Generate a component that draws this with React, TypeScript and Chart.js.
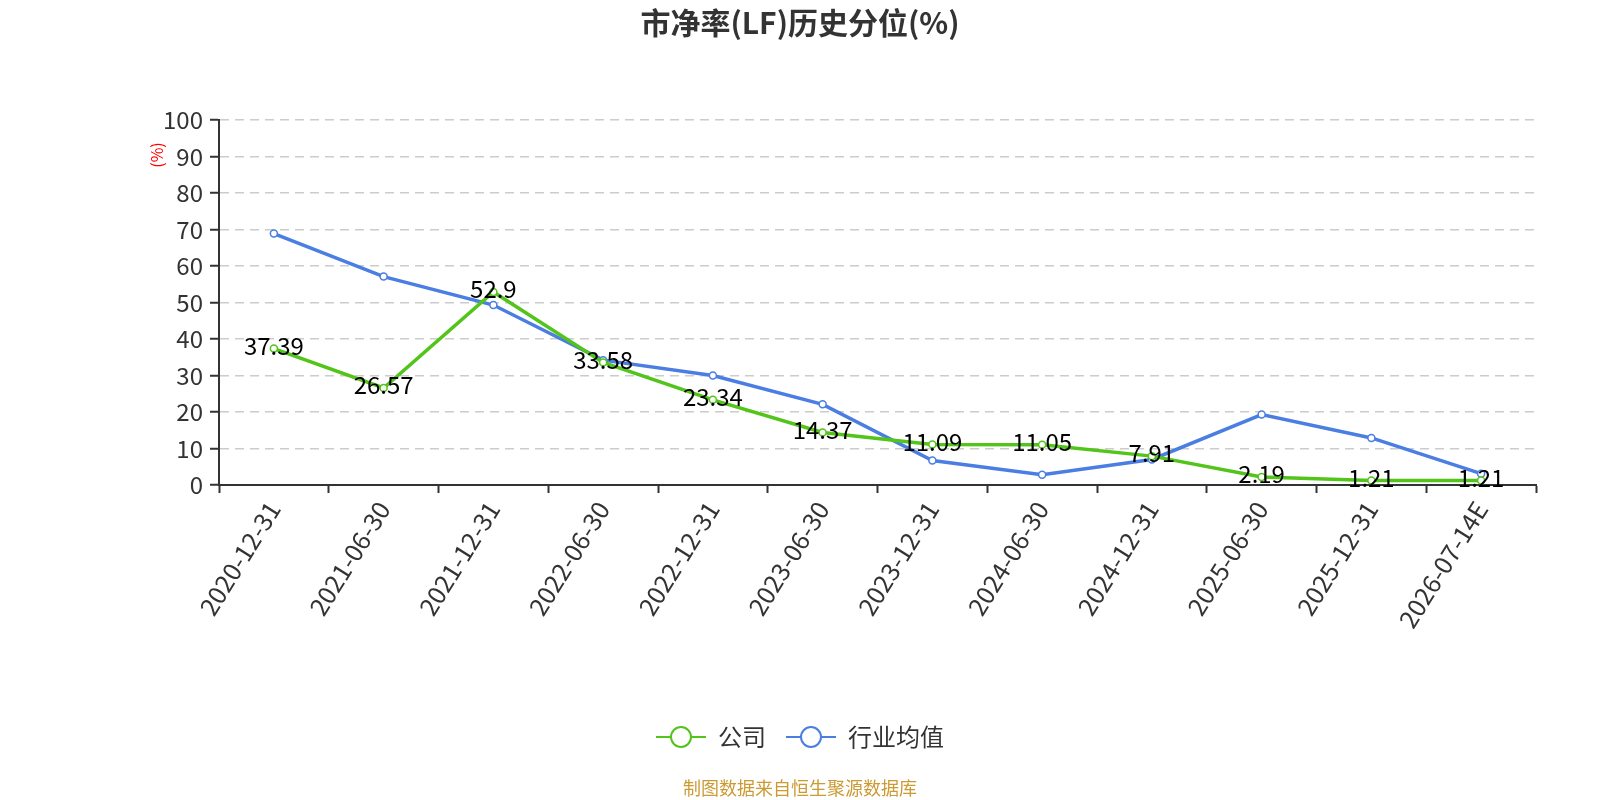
import React, { useEffect, useRef } from "react";
import Chart from "chart.js/auto";

const categories = [
  "2020-12-31",
  "2021-06-30",
  "2021-12-31",
  "2022-06-30",
  "2022-12-31",
  "2023-06-30",
  "2023-12-31",
  "2024-06-30",
  "2024-12-31",
  "2025-06-30",
  "2025-12-31",
  "2026-07-14E",
];
const companyValues = [37.39, 26.57, 52.9, 33.58, 23.34, 14.37, 11.09, 11.05, 7.91, 2.19, 1.21, 1.21];
const industryValues = [68.9, 57.1, 49.3, 34.2, 30.0, 22.1, 6.7, 2.8, 7.0, 19.3, 12.9, 3.1];

const GREEN = "#52C41A";
const BLUE = "#4A7EE3";
const FONT = "'Noto Sans CJK SC', 'Noto Sans', sans-serif";

// legend marker: short line with hollow circle in the middle
function legendIcon(color: string): HTMLCanvasElement {
  const c = document.createElement("canvas");
  c.width = 50;
  c.height = 26;
  const ctx = c.getContext("2d")!;
  ctx.strokeStyle = color;
  ctx.lineWidth = 2;
  ctx.beginPath();
  ctx.moveTo(0, 13);
  ctx.lineTo(50, 13);
  ctx.stroke();
  ctx.beginPath();
  ctx.arc(25, 13, 10, 0, Math.PI * 2);
  ctx.fillStyle = "#fff";
  ctx.fill();
  ctx.stroke();
  return c;
}

const extrasPlugin = {
  id: "extras",
  afterDatasetsDraw(chart: any) {
    const ctx = chart.ctx;
    const meta = chart.getDatasetMeta(0);
    ctx.save();
    ctx.font = `24px ${FONT}`;
    ctx.fillStyle = "#000";
    ctx.textAlign = "center";
    ctx.textBaseline = "middle";
    meta.data.forEach((pt: any, i: number) => {
      ctx.fillText(String(companyValues[i]), pt.x, pt.y - 3);
    });
    ctx.restore();
  },
  afterDraw(chart: any) {
    const ctx = chart.ctx;
    const w = chart.width;
    // title
    ctx.save();
    ctx.font = `bold 30px ${FONT}`;
    ctx.fillStyle = "#333";
    ctx.textAlign = "center";
    ctx.textBaseline = "middle";
    ctx.fillText("市净率(LF)历史分位(%)", w / 2, 23);
    ctx.restore();
    // y axis unit
    ctx.save();
    ctx.translate(157, 155);
    ctx.rotate(-Math.PI / 2);
    ctx.font = `16px ${FONT}`;
    ctx.fillStyle = "#FF0000";
    ctx.textAlign = "center";
    ctx.textBaseline = "middle";
    ctx.fillText("(%)", 0, 0);
    ctx.restore();
    // source note
    ctx.save();
    ctx.font = `18px ${FONT}`;
    ctx.fillStyle = "#CC9A33";
    ctx.textAlign = "center";
    ctx.textBaseline = "middle";
    ctx.fillText("制图数据来自恒生聚源数据库", w / 2, 788);
    ctx.restore();
  },
};

const App: React.FC = () => {
  const canvasRef = useRef<HTMLCanvasElement | null>(null);
  const chartRef = useRef<Chart | null>(null);

  useEffect(() => {
    const ctx = canvasRef.current?.getContext("2d");
    if (!ctx) return;
    const icons = [legendIcon(GREEN), legendIcon(BLUE)];

    chartRef.current = new Chart(ctx, {
      type: "line",
      data: {
        labels: categories,
        datasets: [
          {
            label: "公司",
            data: companyValues,
            borderColor: GREEN,
            backgroundColor: "#fff",
            borderWidth: 3.5,
            pointRadius: 3.5,
            pointBorderWidth: 1.5,
            pointBackgroundColor: "#fff",
            pointBorderColor: GREEN,
          },
          {
            label: "行业均值",
            data: industryValues,
            borderColor: BLUE,
            backgroundColor: "#fff",
            borderWidth: 3.5,
            pointRadius: 3.5,
            pointBorderWidth: 1.5,
            pointBackgroundColor: "#fff",
            pointBorderColor: BLUE,
          },
        ],
      },
      options: {
        animation: false,
        responsive: true,
        maintainAspectRatio: false,
        layout: { padding: { left: 0, right: 0, bottom: 41, top: 120 } },
        plugins: {
          title: { display: false },
          legend: {
            position: "bottom",
            labels: {
              usePointStyle: true,
              pointStyleWidth: 50,
              color: "#333",
              font: { family: FONT, size: 24 },
              padding: 20,
              generateLabels: (chart: any) =>
                chart.data.datasets.map((ds: any, i: number) => ({
                  text: ds.label,
                  pointStyle: icons[i],
                  fillStyle: "#fff",
                  strokeStyle: ds.borderColor,
                  lineWidth: 0,
                  fontColor: "#333",
                  hidden: !chart.isDatasetVisible(i),
                  datasetIndex: i,
                })),
            },
          },
          tooltip: { enabled: false },
        },
        scales: {
          x: {
            offset: true,
            afterFit: (scale: any) => {
              scale.height = 220;
            },
            border: { display: true, color: "#333", width: 2 },
            grid: {
              offset: true,
              drawOnChartArea: false,
              drawTicks: true,
              tickLength: 8,
              tickColor: "#333",
              tickWidth: 2,
            },
            ticks: {
              color: "#333",
              font: { family: FONT, size: 25 },
              minRotation: 58,
              maxRotation: 58,
              autoSkip: false,
            },
          },
          y: {
            min: 0,
            max: 100,
            afterFit: (scale: any) => {
              scale.width = 219;
            },
            border: { display: true, color: "#333", width: 2, dash: [9, 6] },
            grid: {
              color: "#CCCCCC",
              lineWidth: 1.5,
              tickLength: 9,
              tickColor: "#333",
              tickWidth: 2,
              tickBorderDash: [],
            },
            ticks: {
              stepSize: 10,
              color: "#333",
              padding: 7,
              font: { family: FONT, size: 24 },
            },
          },
          // empty right axis, only reserves space on the right
          spacer: {
            type: "linear",
            position: "right",
            afterFit: (scale: any) => {
              scale.width = 64;
            },
            border: { display: false },
            grid: { display: false, drawTicks: false },
            ticks: { display: false },
          },
        },
      },
      plugins: [extrasPlugin],
    });

    return () => {
      chartRef.current?.destroy();
      chartRef.current = null;
    };
  }, []);

  return (
    <div style={{ position: "fixed", left: 0, top: 0, width: 1600, height: 800, background: "#fff" }}>
      <canvas ref={canvasRef} />
    </div>
  );
};

export default App;
